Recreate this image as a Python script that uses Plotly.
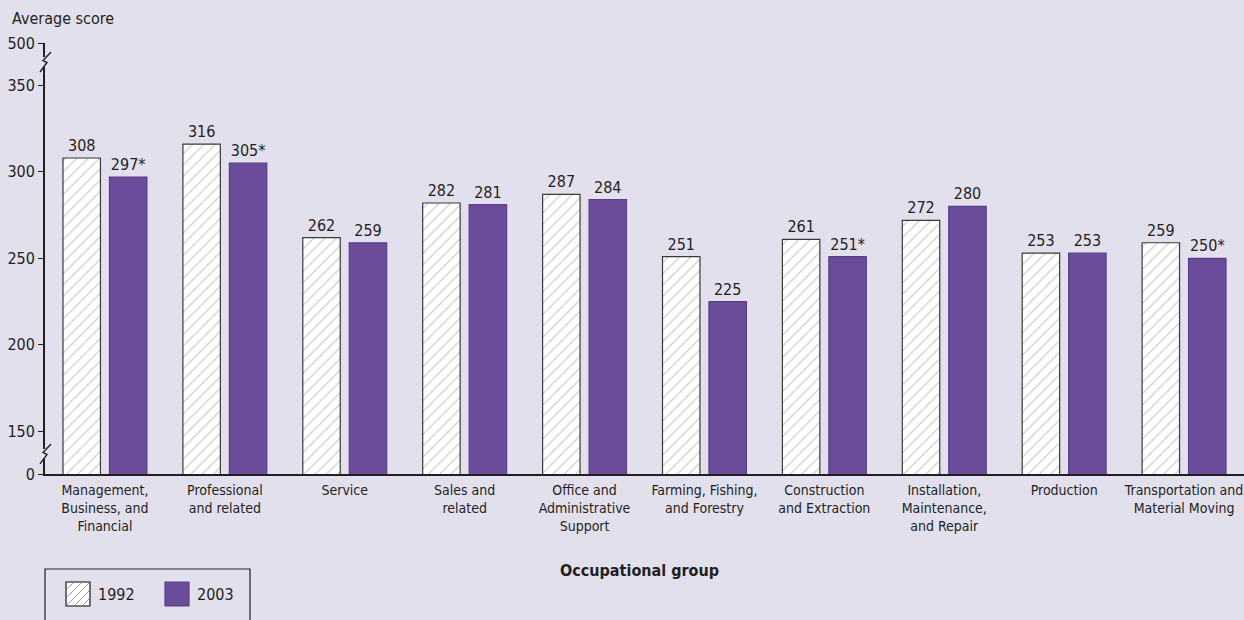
import plotly.graph_objects as go

# Average literacy score by occupational group, 1992 vs 2003
categories = [
    "Management,<br>Business, and<br>Financial",
    "Professional<br>and related",
    "Service",
    "Sales and<br>related",
    "Office and<br>Administrative<br>Support",
    "Farming, Fishing,<br>and Forestry",
    "Construction<br>and Extraction",
    "Installation,<br>Maintenance,<br>and Repair",
    "Production",
    "Transportation and<br>Material Moving",
]
scores_1992 = [308, 316, 262, 282, 287, 251, 261, 272, 253, 259]
scores_2003 = [297, 305, 259, 281, 284, 225, 251, 280, 253, 250]
# 2003 values significantly different from 1992
significant_2003 = [True, True, False, False, False, False, True, False, False, True]

# Broken y axis: 0 and 500 sit just outside the linear 150-350 band
axis_zero_pos = 125.3
axis_top_pos = 374.5
tick_vals = [axis_zero_pos, 150, 200, 250, 300, 350, axis_top_pos]
tick_text = ["0", "150", "200", "250", "300", "350", "500"]

BG = "#E3E0EE"
PURPLE = "#6B4C9B"
PURPLE_EDGE = "#5A3C8A"
INK = "#231F20"
HATCH = "#9E9E9E"
FONT = "DejaVu Sans Condensed, Liberation Sans Narrow, sans-serif"

labels_1992 = [str(v) for v in scores_1992]
labels_2003 = [f"{v}*" if s else str(v) for v, s in zip(scores_2003, significant_2003)]

fig = go.Figure()
fig.add_trace(go.Bar(
    x=categories, y=scores_1992, name="1992",
    text=labels_1992, textposition="outside", cliponaxis=False,
    textfont=dict(family=FONT, size=16, color=INK),
    marker=dict(
        color="white",
        line=dict(color="#3A3A3A", width=1.2),
        pattern=dict(shape="/", fgcolor=HATCH, bgcolor="white",
                     size=8, solidity=0.16),
    ),
    showlegend=False,
))
fig.add_trace(go.Bar(
    x=categories, y=scores_2003, name="2003",
    text=labels_2003, textposition="outside", cliponaxis=False,
    textfont=dict(family=FONT, size=16, color=INK),
    marker=dict(color=PURPLE, line=dict(color=PURPLE_EDGE, width=1.2)),
    showlegend=False,
))

shapes = []

# Axis break marks
def axis_break(y_pos):
    shapes.append(dict(
        type="rect", xref="paper", yref="y", xsizemode="pixel", ysizemode="pixel",
        xanchor=0, yanchor=y_pos, x0=-2, x1=2, y0=-5, y1=5,
        fillcolor=BG, line=dict(width=0), layer="above",
    ))
    shapes.append(dict(
        type="path", xref="paper", yref="y", xsizemode="pixel", ysizemode="pixel",
        xanchor=0, yanchor=y_pos, path="M 6,10 L -2,1.5 L 2,-0.5 L -5,-10",
        line=dict(color=INK, width=1.4), layer="above",
    ))

axis_break(363.5)
axis_break(136.9)

# Legend drawn below the plot
def px_rect(x0, x1, y0, y1, **kw):
    d = dict(type="rect", xref="paper", yref="paper", xsizemode="pixel", ysizemode="pixel",
             xanchor=0, yanchor=0, x0=x0, x1=x1, y0=y0, y1=y1)
    d.update(kw)
    shapes.append(d)

px_rect(0, 205, -95, -160, line=dict(color=INK, width=1.2), fillcolor="rgba(0,0,0,0)")
px_rect(21, 45, -108, -132, line=dict(color="#555555", width=1.2), fillcolor="white")
# hatch inside the 1992 swatch
sx0, sx1, sy0, sy1 = 21, 45, -132, -108
for c in (-16, -8, 0, 8, 16):
    pts = []
    for x in (sx0, sx1):
        y = sy0 + (x - sx0) - c
        if sy0 <= y <= sy1:
            pts.append((x, y))
    for y in (sy0, sy1):
        x = sx0 + (y - sy0) + c
        if sx0 < x < sx1:
            pts.append((x, y))
    if len(pts) >= 2:
        pts.sort()
        (ax, ay), (bx, by) = pts[0], pts[-1]
        shapes.append(dict(
            type="line", xref="paper", yref="paper", xsizemode="pixel", ysizemode="pixel",
            xanchor=0, yanchor=0, x0=ax, y0=ay, x1=bx, y1=by,
            line=dict(color=HATCH, width=1),
        ))
px_rect(21, 45, -108, -132, line=dict(color="#555555", width=1.2), fillcolor="rgba(0,0,0,0)")
px_rect(120, 144, -108, -132, line=dict(color=PURPLE_EDGE, width=1.2), fillcolor=PURPLE)

annotations = [
    dict(text="Average score", xref="paper", yref="paper", x=0, y=1,
         xanchor="left", yanchor="middle", xshift=-35, yshift=25, showarrow=False,
         font=dict(family=FONT, size=16, color=INK)),
    dict(text="<b>Occupational group</b>", xref="paper", yref="paper", x=0.5, y=0,
         xanchor="center", yanchor="middle", yshift=-96, xshift=-5, showarrow=False,
         font=dict(family=FONT, size=16, color=INK)),
    dict(text="1992", xref="paper", yref="paper", x=0, y=0,
         xanchor="left", yanchor="middle", xshift=51, yshift=-120, showarrow=False,
         font=dict(family=FONT, size=16, color=INK)),
    dict(text="2003", xref="paper", yref="paper", x=0, y=0,
         xanchor="left", yanchor="middle", xshift=150, yshift=-120, showarrow=False,
         font=dict(family=FONT, size=16, color=INK)),
]

fig.update_layout(
    width=1244, height=620,
    margin=dict(l=45, r=0, t=43, b=146),
    paper_bgcolor=BG, plot_bgcolor=BG,
    barmode="group", bargap=0.225, bargroupgap=0.194,
    font=dict(family=FONT, size=16, color=INK),
    shapes=shapes, annotations=annotations,
    xaxis=dict(
        showline=True, linecolor=INK, linewidth=1.8, ticks="",
        tickangle=0, automargin=False, ticklabelstandoff=2,
        tickfont=dict(family=FONT, size=14, color=INK),
        showgrid=False, zeroline=False, fixedrange=True,
    ),
    yaxis=dict(
        range=[axis_zero_pos, axis_top_pos], automargin=False,
        tickvals=tick_vals, ticktext=tick_text,
        showline=True, linecolor=INK, linewidth=1.8,
        ticks="outside", ticklen=5, tickcolor=INK, tickwidth=1.4,
        tickfont=dict(family=FONT, size=16, color=INK),
        showgrid=False, zeroline=False, fixedrange=True,
    ),
)

fig.write_html("out.html")
